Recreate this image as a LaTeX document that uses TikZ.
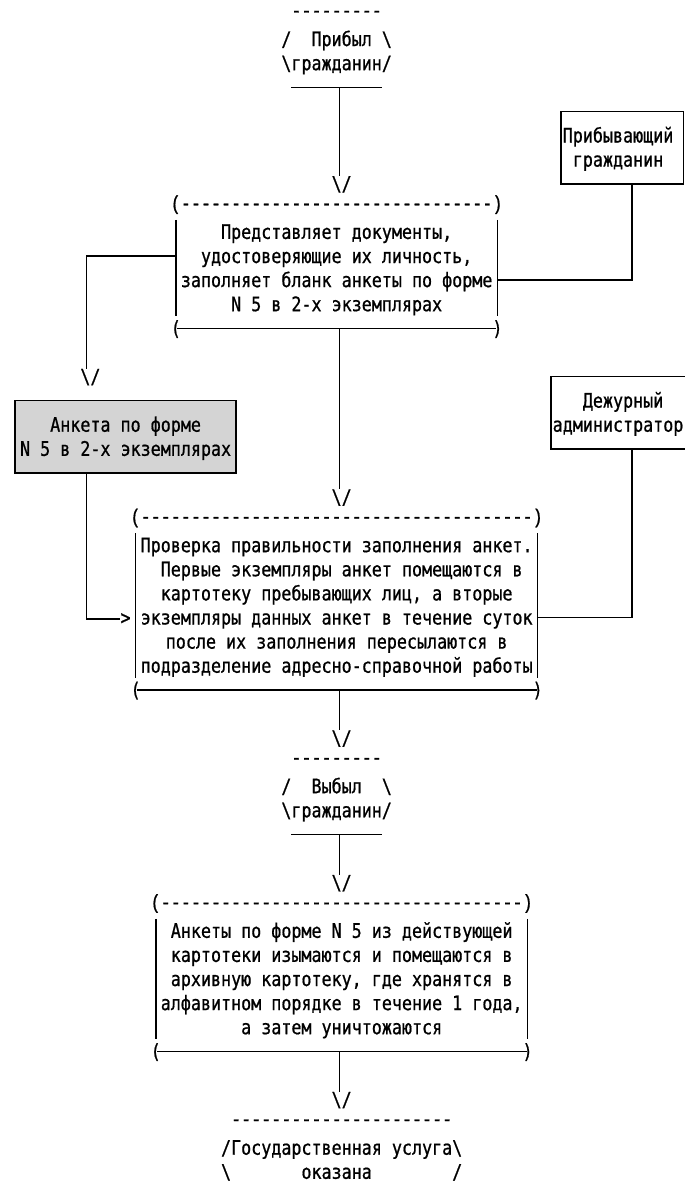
\documentclass[tikz,border=0pt]{standalone}
\usepackage{fontspec}
\newfontfamily\pixfont[FakeStretch=0.8347,FakeBold=0.8,Ligatures=TeXOff,WordSpace={1,0,0}]{DejaVu Sans Mono}
\newfontfamily\dashfont[FakeStretch=0.8375,FakeBold=0.8,Ligatures=TeXOff,WordSpace={1,0,0}]{Liberation Mono}
\definecolor{greyfill}{RGB}{212,212,212}
\tikzset{
  txt/.style={font=\pixfont\fontsize{15}{18}\selectfont, inner sep=0pt, anchor=base, yshift=-5.25pt},
  dsh/.style={font=\dashfont\fontsize{15}{18}\selectfont, inner sep=0pt, anchor=base, yshift=-1.5pt},
  ln/.style={line width=1.2pt},
  boxframe/.style={line width=1.2pt, draw=black},
}
\begin{document}
\begin{tikzpicture}[x=7.5375pt, y=-18.075pt, shift={(0.4975,0.6224)}]
\useasboundingbox (-0.4975,-0.6224) rectangle (67.6617,48.8382);

% ---------- terminal 1
\node[dsh] (t1top) at (33,0) {---------};
\node[txt] (t1a) at (33,1) {/~~Прибыл~\textbackslash};
\node[txt] (t1b) at (33,2) {\textbackslash гражданин/};
\coordinate (t1L) at (28.5,3);
\coordinate (t1R) at (37.5,3);
\coordinate (t1C) at (33.3,3);
\draw[ln] (t1L) -- (t1R);
\node[txt] (a1) at (33.5,7) {\textbackslash/};
\draw[ln] (t1C) -- (t1C |- a1.north);

% ---------- arriving citizen box
\draw[boxframe] (55.3,4) rectangle (67.5,7);
\node[txt] (pb1) at (61,5) {Прибывающий};
\node[txt] (pb2) at (61,6) {гражданин};
\coordinate (pbB) at (62.4,7);

% ---------- box 1
\node[dsh] (b1top) at (33,8) {(-------------------------------)};
\draw[ln] (17,8.5) -- (17,12.5);
\draw[ln] (49,8.5) -- (49,12.5);
\node[txt] (b1l1) at (33,9) {Представляет документы,};
\node[txt] (b1l2) at (33,10) {удостоверяющие их личность,};
\node[txt] (b1l3) at (33,11) {заполняет бланк анкеты по форме};
\node[txt] (b1l4) at (33,12) {N 5 в 2-х экземплярах};
\node[txt] (b1bl) at (17,13) {(};
\node[txt] (b1br) at (49,13) {)};
\draw[ln] (17.1,13) -- (48.9,13);
\coordinate (b1B) at (33.3,13);
\coordinate (b1L) at (17,10);
\coordinate (b1R) at (49,11);
\draw[ln] (pbB) |- (b1R);

% ---------- left branch
\coordinate (lcol) at (8.1,10);
\node[txt] (a2) at (8.5,15) {\textbackslash/};
\draw[ln] (b1L) -- (lcol) -- (lcol |- a2.north);

% ---------- grey form box
\draw[boxframe, fill=greyfill] (1,16) rectangle (23,19);
\node[txt] (g1) at (12,17) {Анкета по форме};
\node[txt] (g2) at (12,18) {N 5 в 2-х экземплярах};
\coordinate (gB) at (8.1,19);
\node[txt] (a3) at (12,25) {>};
\draw[ln] (gB) |- (a3.west);

% ---------- duty administrator box
\draw[boxframe] (54.3,15) rectangle (68.6,18);
\node[txt] (ad1) at (61.5,16) {Дежурный};
\node[txt] (ad2) at (61,17) {администратор};
\coordinate (adB) at (62.4,18);

% ---------- central arrow to box 2
\node[txt] (a4) at (33.5,20) {\textbackslash/};
\draw[ln] (b1B) -- (b1B |- a4.north);

% ---------- box 2
\node[dsh] (b2top) at (33,21) {(---------------------------------------)};
\draw[ln] (13,21.5) -- (13,27.5);
\draw[ln] (53,21.5) -- (53,27.5);
\node[txt] (b2l1) at (33,22) {Проверка правильности заполнения анкет.};
\node[txt] (b2l2) at (33.5,23) {Первые экземпляры анкет помещаются в};
\node[txt] (b2l3) at (33,24) {картотеку пребывающих лиц, а вторые};
\node[txt] (b2l4) at (33,25) {экземпляры данных анкет в течение суток};
\node[txt] (b2l5) at (33,26) {после их заполнения пересылаются в};
\node[txt] (b2l6) at (33,27) {подразделение адресно-справочной работы};
\node[txt] (b2bl) at (13,28) {(};
\node[txt] (b2br) at (53,28) {)};
\draw[ln] (13.1,28) -- (52.9,28);
\coordinate (b2R) at (53,25);
\coordinate (b2B) at (33.3,28);
\draw[ln] (adB) |- (b2R);

% ---------- arrow to terminal 2
\node[txt] (a5) at (33.5,30) {\textbackslash/};
\draw[ln] (b2B) -- (b2B |- a5.north);

% ---------- terminal 2
\node[dsh] (t2top) at (33,31) {---------};
\node[txt] (t2a) at (33,32) {/~~Выбыл~~\textbackslash};
\node[txt] (t2b) at (33,33) {\textbackslash гражданин/};
\coordinate (t2L) at (28.5,34);
\coordinate (t2R) at (37.5,34);
\coordinate (t2C) at (33.3,34);
\draw[ln] (t2L) -- (t2R);
\node[txt] (a6) at (33.5,36) {\textbackslash/};
\draw[ln] (t2C) -- (t2C |- a6.north);

% ---------- box 3
\node[dsh] (b3top) at (33.5,37) {(------------------------------------)};
\draw[ln] (15,37.5) -- (15,42.5);
\draw[ln] (52,37.5) -- (52,42.5);
\node[txt] (b3l1) at (33.5,38) {Анкеты по форме N 5 из действующей};
\node[txt] (b3l2) at (33.5,39) {картотеки изымаются и помещаются в};
\node[txt] (b3l3) at (33.5,40) {архивную картотеку, где хранятся в};
\node[txt] (b3l4) at (33.5,41) {алфавитном порядке в течение 1 года,};
\node[txt] (b3l5) at (33.5,42) {а затем уничтожаются};
\node[txt] (b3bl) at (15,43) {(};
\node[txt] (b3br) at (52,43) {)};
\draw[ln] (15.1,43) -- (51.9,43);
\coordinate (b3B) at (33.3,43);

% ---------- arrow to terminal 3
\node[txt] (a7) at (33.5,45) {\textbackslash/};
\draw[ln] (b3B) -- (b3B |- a7.north);

% ---------- terminal 3
\node[dsh] (t3top) at (33.5,46) {----------------------};
\node[txt] (t3a) at (33.5,47) {/Государственная~услуга\textbackslash};
\node[txt] (t3b) at (33.5,48) {\textbackslash~~~~~~~оказана~~~~~~~~/};
\end{tikzpicture}
\end{document}
